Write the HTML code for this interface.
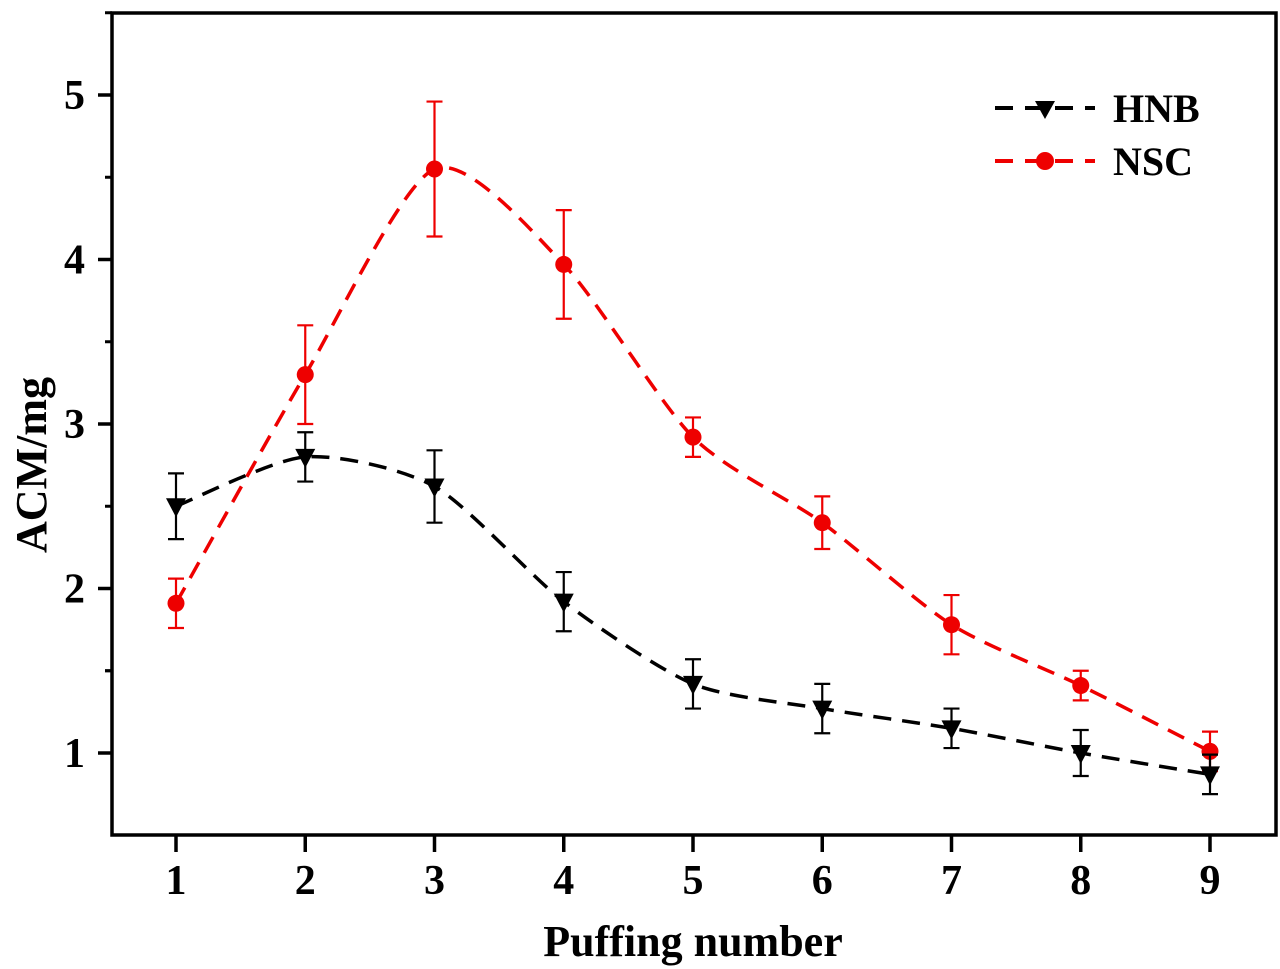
<!DOCTYPE html>
<html><head><meta charset="utf-8"><style>
body{margin:0;background:#fff}
svg{display:block}
text{font-family:"Liberation Serif",serif;font-weight:bold;fill:#000}
</style></head><body>
<svg id="chart" width="1280" height="969" viewBox="0 0 1280 969" xmlns="http://www.w3.org/2000/svg">
<g id="axes"></g>
<g id="series"></g>
<g id="legend">
  <line x1="995" y1="108" x2="1095" y2="108" stroke="#000" stroke-width="4" stroke-dasharray="18,12"/>
  <path d="M1035,101 L1055,101 L1045,119 Z" fill="#000"/>
  <text x="1113" y="122" font-size="40">HNB</text>
  <line x1="995" y1="161" x2="1095" y2="161" stroke="#e00" stroke-width="4" stroke-dasharray="18,12"/>
  <circle cx="1045" cy="161" r="9" fill="#e00"/>
  <text x="1113" y="175" font-size="40">NSC</text>
</g>
</svg>
<script>
const categories=[1,2,3,4,5,6,7,8,9];
const hnbValues=[2.5,2.8,2.62,1.92,1.42,1.27,1.15,1.0,0.87];
const hnbErrors=[0.2,0.15,0.22,0.18,0.15,0.15,0.12,0.14,0.12];
const nscValues=[1.91,3.3,4.55,3.97,2.92,2.4,1.78,1.41,1.01];
const nscErrors=[0.15,0.3,0.41,0.33,0.12,0.16,0.18,0.09,0.12];
const yTicks=[1,2,3,4,5];

const NS="http://www.w3.org/2000/svg";
const L=112,R=1276,T=13,B=835;
const xs=v=>176+(v-1)*129.25;
const ys=v=>753-(v-1)*164.5;
function mk(tag,attrs,parent){const e=document.createElementNS(NS,tag);for(const k in attrs)e.setAttribute(k,attrs[k]);parent.appendChild(e);return e;}
const axes=document.getElementById('axes');
const frame=mk('rect',{x:L,y:T,width:R-L,height:B-T,fill:'none',stroke:'#000','stroke-width':3.5},axes);


yTicks.forEach(v=>{
  const t=mk('line',{x1:L-14,x2:L,y1:ys(v),y2:ys(v),stroke:'#000','stroke-width':3.5},axes);
  
  
  const m=mk('line',{x1:L-7,x2:L,y1:ys(v+0.5),y2:ys(v+0.5),stroke:'#000','stroke-width':3},axes);
  
  
  const lb=mk('text',{x:85,y:ys(v)+14,'text-anchor':'end','font-size':42},axes);lb.textContent=v;
  
  
});
const m0=mk('line',{x1:L-7,x2:L,y1:ys(1.5),y2:ys(1.5),stroke:'#000','stroke-width':3},axes);


categories.forEach(c=>{
  const t=mk('line',{x1:xs(c),x2:xs(c),y1:B,y2:B+17,stroke:'#000','stroke-width':3.5},axes);
  
  
  const lb=mk('text',{x:xs(c),y:894,'text-anchor':'middle','font-size':42},axes);lb.textContent=c;
  
  
});
const xt=mk('text',{x:693,y:956,'text-anchor':'middle','font-size':44},axes);xt.textContent='Puffing number';


const yt=mk('text',{x:0,y:0,'text-anchor':'middle','font-size':44,transform:'translate(46,465) rotate(-90)'},axes);yt.textContent='ACM/mg';



function smooth(pts){
  let d=`M${pts[0][0]},${pts[0][1]}`;
  for(let i=0;i<pts.length-1;i++){
    const p0=pts[i-1]||pts[i],p1=pts[i],p2=pts[i+1],p3=pts[i+2]||p2;
    const c1=[p1[0]+(p2[0]-p0[0])/8,p1[1]+(p2[1]-p0[1])/8];
    const c2=[p2[0]-(p3[0]-p1[0])/8,p2[1]-(p3[1]-p1[1])/8];
    d+=` C${c1[0]},${c1[1]} ${c2[0]},${c2[1]} ${p2[0]},${p2[1]}`;
  }
  return d;
}
const series=document.getElementById('series');
function draw(name,vals,errs,color,marker){
  const g=mk('g',{},series);
  
  
  const pts=categories.map((c,i)=>[xs(c),ys(vals[i])]);
  const p=mk('path',{d:smooth(pts),fill:'none',stroke:color,'stroke-width':3.5,'stroke-dasharray':'18,11'},g);
  
  
  categories.forEach((c,i)=>{
    const x=xs(c),y1=ys(vals[i]+errs[i]),y2=ys(vals[i]-errs[i]);
    const e=mk('path',{d:`M${x},${y1}V${y2}M${x-8},${y1}H${x+8}M${x-8},${y2}H${x+8}`,stroke:color,'stroke-width':2.2,fill:'none'},g);
    
    
    const y=ys(vals[i]);
    let m;
    if(marker==='tri') m=mk('path',{d:`M${x-10},${y-8} L${x+10},${y-8} L${x},${y+11} Z`,fill:color},g);
    else m=mk('circle',{cx:x,cy:y,r:8.5,fill:color},g);
    
    
  });
}
draw('nsc',nscValues,nscErrors,'#e00','circle');
draw('hnb',hnbValues,hnbErrors,'#000','tri');
</script>
</body></html>
